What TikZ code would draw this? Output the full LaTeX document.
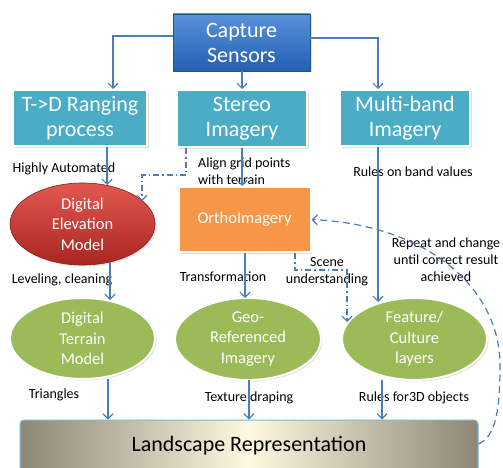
\documentclass[tikz,border=0pt]{standalone}
\usepackage{fontspec}
\setmainfont{Carlito}
\usetikzlibrary{shapes.geometric,arrows.meta,shadows}
\definecolor{linkblue}{RGB}{74,126,187}
\definecolor{teal}{RGB}{75,172,198}
\definecolor{orng}{RGB}{247,150,70}
\definecolor{grn}{RGB}{155,187,89}
\definecolor{capTop}{RGB}{88,146,218}
\definecolor{capBot}{RGB}{35,95,178}
\definecolor{capBorder}{RGB}{40,80,140}
\definecolor{redTop}{RGB}{226,88,80}
\definecolor{redBot}{RGB}{170,38,34}
\definecolor{landEdge}{RGB}{140,135,118}
\definecolor{landMid}{RGB}{253,248,222}
\definecolor{landBorder}{RGB}{120,185,210}
\begin{document}
\begin{tikzpicture}[x=1pt,y=-1pt,
  shad/.style={drop shadow={opacity=0.25,shadow xshift=1.5pt,shadow yshift=-1.5pt}},
  boxtext/.style={text=white,font=\fontsize{22}{25}\selectfont,align=center,inner sep=0pt},
  elltext/.style={text=white,font=\fontsize{16.5}{20.5}\selectfont,align=center,inner sep=0pt},
  capbox/.style={boxtext,rectangle,draw=capBorder,line width=0.8pt,top color=capTop,bottom color=capBot,shad},
  tealbox/.style={boxtext,rectangle,fill=teal,draw=white,line width=2pt,shad},
  redell/.style={elltext,ellipse,draw=redBot!80!black,line width=0.6pt,top color=redTop,bottom color=redBot,shad},
  orbox/.style={elltext,rectangle,fill=orng,draw=white,line width=2pt,shad},
  grnell/.style={elltext,ellipse,fill=grn,draw=white,line width=2pt,shad},
  landbox/.style={rectangle,rounded corners=4pt,draw=landBorder,line width=1pt,left color=landEdge,right color=landEdge,middle color=landMid,font=\fontsize{22}{25}\selectfont,inner sep=0pt},
  lbl/.style={font=\fontsize{14}{17}\selectfont,align=center,inner sep=0pt,text=black},
  conn/.style={draw=linkblue,line width=1.2pt,-{Straight Barb[length=5pt,width=10pt]}},
  dashdot/.style={conn,dash pattern=on 6pt off 3pt on 1.5pt off 3pt},
  dashd/.style={conn,dash pattern=on 7pt off 4.5pt}
]
\useasboundingbox (0,0) rectangle (503,468);
\fill[white] (0,0) rectangle (503,468);

% nodes
\node[capbox,minimum width=137pt,minimum height=57pt] (cap) at (241.5,42.5) {Capture\\Sensors};
\node[tealbox,minimum width=134pt,minimum height=56pt] (td) at (80,118) {T->D Ranging\\process};
\node[tealbox,minimum width=130pt,minimum height=57pt] (st) at (242,118.5) {Stereo\\Imagery};
\node[tealbox,minimum width=130pt,minimum height=56pt] (mb) at (405,118) {Multi-band\\Imagery};
\node[redell,minimum width=145pt,minimum height=82pt] (dem) at (82.5,224) {Digital\\Elevation\\Model};
\node[orbox,minimum width=132pt,minimum height=65pt] (ortho) at (244.5,219.5) {OrthoImagery};
\node[grnell,minimum width=145pt,minimum height=81pt] (dtm) at (82.5,338.5) {Digital\\Terrain\\Model};
\node[grnell,minimum width=146pt,minimum height=82pt] (geo) at (248,339) {Geo-\\Referenced\\Imagery};
\node[grnell,minimum width=145pt,minimum height=82pt] (feat) at (414.5,339) {Feature/\\Culture\\layers};
\node[landbox,minimum width=458pt,minimum height=52pt] (land) at (249,446) {Landscape Representation};

% labels
\node[lbl] (l1) at (64,169) {Highly Automated};
\node[lbl,align=left,anchor=west] (l2) at (198,171) {Align grid points\\with terrain};
\node[lbl] (l3) at (413,172) {Rules on band values};
\node[lbl] (l4) at (62,280) {Leveling, cleaning};
\node[lbl] (l5) at (223,277) {Transformation};
\node[lbl] (l6) at (327,271.5) {Scene\\understanding};
\node[lbl] (l7) at (446,260) {Repeat and change\\until correct result\\achieved};
\node[lbl] (l8) at (54,395) {Triangles};
\node[lbl] (l9) at (249,398) {Texture draping};
\node[lbl] (l10) at (414,398) {Rules for3D objects};

% connectors
\draw[conn] (cap.west |- 0,36) -| (113,0 |- td.north);
\draw[conn] (cap.south -| 242,0) -- (st.north -| 242,0);
\draw[conn] (cap.east |- 0,38) -| (378,0 |- mb.north);
\draw[conn] (td.south -| 107,0) -- (107,185);
\draw[conn] (st.south -| 242,0) -- (ortho.north -| 242,0);
\draw[dashdot] (st.south -| 186,0) -- (186,175) -| (142,201);
\draw[conn] (110,262) -- (110,300);
\draw[conn] (ortho.south -| 245,0) -- (245,298);
\draw[dashdot] (ortho.south -| 295,0) -- (295,270) -| (347,322);
\draw[conn] (mb.south -| 378,0) -- (378,302);
\draw[conn] (108,379) -- (land.north -| 108,0);
\draw[conn] (249,380) -- (land.north -| 249,0);
\draw[conn] (382,380) -- (land.north -| 382,0);
\draw[dashd] (land.east |- 0,444) .. controls (496,436) and (500,410) .. (500,365)
   .. controls (500,290) and (430,225) .. (ortho.east);
\end{tikzpicture}
\end{document}
